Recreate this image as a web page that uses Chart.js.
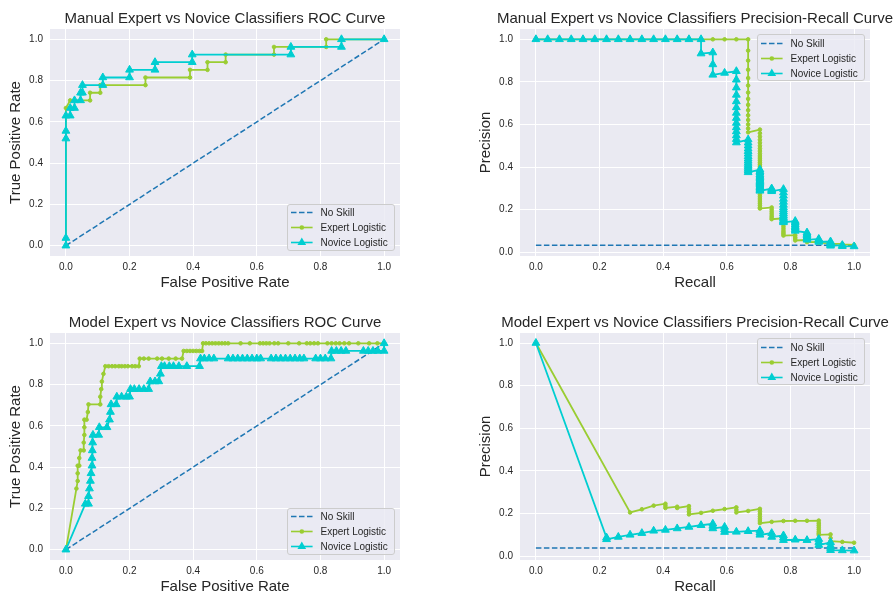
<!DOCTYPE html>
<html>
<head>
<meta charset="utf-8">
<script src="https://cdn.jsdelivr.net/npm/chart.js@4.4.1/dist/chart.umd.min.js"></script>
<style>
  html, body { margin: 0; padding: 0; background: #fff; overflow: hidden; }
  #fig { position: relative; width: 896px; height: 595px; overflow: hidden;
         font-family: "Liberation Sans", Arial, sans-serif; color: #262626; }
  #fig canvas { position: absolute; }
  .ttl { position: absolute; font-size: 15px; line-height: 15px; white-space: nowrap; transform: translateX(-50%); }
  .lgd { position: absolute; box-sizing: border-box; width: 108px; height: 47px;
         background: rgba(234, 234, 242, 0.8); border: 1px solid #cccccc; border-radius: 3px; }
  .lgd .row { position: absolute; left: 0; height: 15px; width: 106px; }
  .lgd svg { position: absolute; left: 3px; top: 0; }
  .lgd span { position: absolute; left: 33px; top: 0; font-size: 10px; line-height: 15px; white-space: nowrap; }
</style>
</head>
<body>
<div id="fig">
  <canvas id="manualRoc" width="448" height="300" style="left:0;top:0"></canvas>
  <canvas id="manualPr" width="448" height="300" style="left:448px;top:0"></canvas>
  <canvas id="modelRoc" width="448" height="300" style="left:0;top:300px"></canvas>
  <canvas id="modelPr" width="448" height="300" style="left:448px;top:300px"></canvas>
</div>
<script>
// ---- data ----
const tickValues = [0, 0.2, 0.4, 0.6, 0.8, 1.0];
const tickLabels = ['0.0', '0.2', '0.4', '0.6', '0.8', '1.0'];
const seriesNames = ['No Skill', 'Expert Logistic', 'Novice Logistic'];

const rocNoSkillX = [0, 1];
const rocNoSkillY = [0, 1];
const manualPrNoSkill = 0.033;
const modelPrNoSkill = 0.038;

// Manual ROC
const manualRocExpertFpr = [0, 0, 0.0135, 0.076, 0.076, 0.108, 0.108, 0.25, 0.25, 0.39, 0.39, 0.445, 0.445, 0.502, 0.502, 0.654, 0.654, 0.818, 0.818, 1.0];
const manualRocExpertTpr = [0, 0.667, 0.704, 0.704, 0.741, 0.741, 0.778, 0.778, 0.815, 0.815, 0.852, 0.852, 0.889, 0.889, 0.926, 0.926, 0.963, 0.963, 1.0, 1.0];
const manualRocNoviceFpr = [0, 0, 0, 0, 0, 0.0135, 0.0135, 0.027, 0.027, 0.046, 0.046, 0.052, 0.052, 0.116, 0.116, 0.2, 0.2, 0.28, 0.28, 0.397, 0.397, 0.707, 0.707, 0.866, 0.866, 1.0];
const manualRocNoviceTpr = [0, 0.037, 0.519, 0.556, 0.63, 0.63, 0.667, 0.667, 0.704, 0.704, 0.741, 0.741, 0.778, 0.778, 0.815, 0.815, 0.852, 0.852, 0.889, 0.889, 0.926, 0.926, 0.963, 0.963, 1.0, 1.0];

// Manual precision-recall
const manualPrExpertRecall = [
  0, 0.037, 0.074, 0.111, 0.148, 0.185, 0.222, 0.259, 0.296, 0.333, 0.37, 0.407, 0.444, 0.481, 0.519, 0.556, 0.593, 0.63, 0.667,
  0.667, 0.667, 0.667, 0.667, 0.667, 0.667, 0.667, 0.667, 0.667, 0.667, 0.667, 0.667, 0.667, 0.667,
  0.704, 0.704, 0.704, 0.704, 0.704, 0.704, 0.704, 0.704, 0.704, 0.704, 0.704, 0.704,
  0.704, 0.704, 0.704, 0.704, 0.704, 0.704, 0.704, 0.704, 0.704, 0.704, 0.704, 0.704,
  0.704, 0.704, 0.704, 0.704, 0.704, 0.704, 0.704, 0.704, 0.704, 0.704, 0.704, 0.704,
  0.741, 0.741, 0.741, 0.741, 0.741, 0.741, 0.741,
  0.778, 0.778, 0.778, 0.778, 0.778, 0.778, 0.778, 0.778, 0.778, 0.778,
  0.815, 0.815, 0.815, 0.815,
  0.852, 0.852, 0.852,
  0.889, 0.889,
  0.926, 0.926,
  0.963, 0.963,
  1.0
];
const manualPrExpertPrecision = [
  1, 1, 1, 1, 1, 1, 1, 1, 1, 1, 1, 1, 1, 1, 1, 1, 1, 1, 1,
  0.947, 0.9, 0.857, 0.818, 0.783, 0.75, 0.72, 0.692, 0.667, 0.643, 0.621, 0.6, 0.581, 0.563,
  0.576, 0.559, 0.543, 0.528, 0.514, 0.5, 0.487, 0.475, 0.463, 0.452, 0.442, 0.432,
  0.422, 0.413, 0.404, 0.396, 0.388, 0.38, 0.37, 0.36, 0.35, 0.34, 0.33, 0.32,
  0.31, 0.3, 0.29, 0.28, 0.27, 0.26, 0.25, 0.24, 0.23, 0.22, 0.21, 0.205,
  0.21, 0.2, 0.19, 0.18, 0.17, 0.162, 0.155,
  0.159, 0.15, 0.14, 0.13, 0.12, 0.11, 0.1, 0.092, 0.085, 0.078,
  0.08, 0.07, 0.062, 0.055,
  0.057, 0.052, 0.047,
  0.048, 0.044,
  0.043, 0.039,
  0.039, 0.036,
  0.034
];
const manualPrNoviceRecall = [
  0, 0.037, 0.074, 0.111, 0.148, 0.185, 0.222, 0.259, 0.296, 0.333, 0.37, 0.407, 0.444, 0.481, 0.519,
  0.519,
  0.556, 0.556, 0.556,
  0.593,
  0.63, 0.63, 0.63, 0.63, 0.63, 0.63, 0.63, 0.63, 0.63, 0.63, 0.63, 0.63, 0.63, 0.63,
  0.667, 0.667, 0.667, 0.667, 0.667, 0.667, 0.667, 0.667, 0.667, 0.667, 0.667, 0.667, 0.667, 0.667, 0.667,
  0.704, 0.704, 0.704, 0.704, 0.704, 0.704, 0.704, 0.704, 0.704, 0.704, 0.704, 0.704, 0.704, 0.704, 0.704, 0.704, 0.704, 0.704,
  0.741, 0.741, 0.741, 0.741,
  0.778, 0.778, 0.778, 0.778, 0.778, 0.778, 0.778, 0.778, 0.778, 0.778, 0.778, 0.778, 0.778, 0.778, 0.778, 0.778,
  0.815, 0.815, 0.815, 0.815, 0.815, 0.815, 0.815,
  0.852, 0.852, 0.852, 0.852, 0.852, 0.852,
  0.889, 0.889, 0.889, 0.889,
  0.926, 0.926, 0.926, 0.926, 0.926,
  0.963, 0.963,
  1.0
];
const manualPrNovicePrecision = [
  1, 1, 1, 1, 1, 1, 1, 1, 1, 1, 1, 1, 1, 1, 1,
  0.933,
  0.938, 0.882, 0.833,
  0.842,
  0.85, 0.81, 0.773, 0.739, 0.708, 0.68, 0.654, 0.63, 0.607, 0.586, 0.567, 0.548, 0.531, 0.515,
  0.529, 0.514, 0.5, 0.486, 0.474, 0.462, 0.45, 0.439, 0.429, 0.419, 0.409, 0.4, 0.391, 0.383, 0.375,
  0.388, 0.38, 0.373, 0.365, 0.358, 0.352, 0.345, 0.339, 0.333, 0.328, 0.322, 0.317, 0.311, 0.306, 0.302, 0.297, 0.292, 0.288,
  0.299, 0.294, 0.29, 0.286,
  0.296, 0.28, 0.265, 0.25, 0.236, 0.222, 0.21, 0.2, 0.19, 0.181, 0.172, 0.164, 0.157, 0.15, 0.144, 0.14,
  0.146, 0.138, 0.13, 0.122, 0.115, 0.108, 0.1,
  0.092, 0.085, 0.078, 0.071, 0.064, 0.058,
  0.062, 0.058, 0.053, 0.048,
  0.05, 0.045, 0.04, 0.035, 0.03,
  0.033, 0.028,
  0.027
];

// Model ROC
const modelRocExpertFpr = [
  0, 0.033, 0.037, 0.037, 0.037, 0.042, 0.042, 0.046, 0.056, 0.056, 0.058, 0.058, 0.058, 0.065, 0.069, 0.071, 0.108, 0.108, 0.111, 0.113, 0.118, 0.124,
  0.134, 0.145, 0.155, 0.166, 0.175, 0.185, 0.195, 0.208, 0.218, 0.229,
  0.232, 0.245, 0.26, 0.287, 0.302, 0.323, 0.345, 0.365,
  0.37, 0.38, 0.39, 0.4, 0.41, 0.42, 0.428,
  0.431, 0.44, 0.45, 0.46, 0.47, 0.48, 0.49, 0.5, 0.51, 0.549, 0.578,
  0.61, 0.62, 0.63, 0.64, 0.655, 0.667, 0.699, 0.733, 0.757, 0.768, 0.78,
  0.792, 0.822, 0.835, 0.848, 0.86, 0.875, 0.89, 0.919, 0.953, 0.979, 1.0
];
const modelRocExpertTpr = [
  0, 0.296, 0.333, 0.37, 0.407, 0.407, 0.444, 0.481, 0.481, 0.519, 0.556, 0.593, 0.63, 0.63, 0.667, 0.704, 0.704, 0.741, 0.778, 0.815, 0.852, 0.889,
  0.889, 0.889, 0.889, 0.889, 0.889, 0.889, 0.889, 0.889, 0.889, 0.889,
  0.926, 0.926, 0.926, 0.926, 0.926, 0.926, 0.926, 0.926,
  0.963, 0.963, 0.963, 0.963, 0.963, 0.963, 0.963,
  1, 1, 1, 1, 1, 1, 1, 1, 1, 1, 1,
  1, 1, 1, 1, 1, 1, 1, 1, 1, 1, 1,
  1, 1, 1, 1, 1, 1, 1, 1, 1, 1, 1
];
const modelRocNoviceFpr = [
  0, 0.061, 0.071, 0.071, 0.074, 0.077, 0.079, 0.082, 0.082, 0.083, 0.084, 0.085, 0.103, 0.105, 0.129, 0.137, 0.14,
  0.142, 0.158, 0.16, 0.175, 0.19, 0.2, 0.203, 0.215, 0.23, 0.245, 0.26, 0.265, 0.28, 0.292, 0.297, 0.3,
  0.31, 0.325, 0.338, 0.355, 0.38, 0.42,
  0.423, 0.435, 0.45, 0.465, 0.51, 0.525, 0.54, 0.555, 0.57, 0.585, 0.6, 0.612,
  0.645, 0.66, 0.675, 0.69, 0.705, 0.72, 0.735, 0.748, 0.785, 0.8, 0.815, 0.833,
  0.835, 0.85, 0.865, 0.88, 0.935, 0.95, 0.965, 0.98, 1.0,
  1.0
];
const modelRocNoviceTpr = [
  0, 0.222, 0.222, 0.259, 0.296, 0.333, 0.37, 0.407, 0.444, 0.481, 0.519, 0.556, 0.556, 0.593, 0.593, 0.63, 0.667,
  0.704, 0.704, 0.741, 0.741, 0.741, 0.741, 0.778, 0.778, 0.778, 0.778, 0.778, 0.815, 0.815, 0.815, 0.852, 0.889,
  0.889, 0.889, 0.889, 0.889, 0.889, 0.889,
  0.926, 0.926, 0.926, 0.926, 0.926, 0.926, 0.926, 0.926, 0.926, 0.926, 0.926, 0.926,
  0.926, 0.926, 0.926, 0.926, 0.926, 0.926, 0.926, 0.926, 0.926, 0.926, 0.926, 0.926,
  0.963, 0.963, 0.963, 0.963, 0.963, 0.963, 0.963, 0.963, 0.963,
  1.0
];

// Model precision-recall
const modelPrExpertRecall = [
  0, 0.296, 0.333, 0.37, 0.407, 0.407, 0.407, 0.444, 0.444, 0.481, 0.481, 0.481, 0.481, 0.519, 0.556, 0.593, 0.63, 0.63, 0.63, 0.667,
  0.704, 0.704, 0.704, 0.704, 0.704, 0.704, 0.704,
  0.741, 0.778, 0.815, 0.852,
  0.889, 0.889, 0.889, 0.889, 0.889, 0.889, 0.889, 0.889,
  0.926, 0.926, 0.926,
  0.963, 1.0
];
const modelPrExpertPrecision = [
  1.0, 0.205, 0.22, 0.237, 0.246, 0.236, 0.226, 0.232, 0.226, 0.235, 0.222, 0.209, 0.196, 0.203, 0.213, 0.221, 0.229, 0.217, 0.205, 0.212,
  0.222, 0.21, 0.198, 0.186, 0.175, 0.165, 0.155,
  0.161, 0.165, 0.166, 0.166,
  0.167, 0.155, 0.145, 0.135, 0.125, 0.115, 0.107, 0.1,
  0.102, 0.085, 0.07,
  0.067, 0.063
];
const modelPrNoviceRecall = [
  0, 0.222, 0.222, 0.259, 0.296, 0.333, 0.37, 0.407, 0.444, 0.481, 0.519,
  0.556, 0.556, 0.556,
  0.593, 0.593, 0.593,
  0.63, 0.667,
  0.704, 0.704, 0.704,
  0.741, 0.741,
  0.778, 0.778, 0.778,
  0.815, 0.852,
  0.889, 0.889, 0.889,
  0.926, 0.926, 0.926, 0.926,
  0.963, 1.0
];
const modelPrNovicePrecision = [
  1.0, 0.087, 0.079, 0.09, 0.1, 0.108, 0.119, 0.123, 0.13, 0.137, 0.145,
  0.152, 0.142, 0.13,
  0.137, 0.125, 0.113,
  0.114, 0.117,
  0.12, 0.11, 0.1,
  0.108, 0.09,
  0.097, 0.086, 0.075,
  0.077, 0.075,
  0.08, 0.066, 0.052,
  0.065, 0.05, 0.038, 0.028,
  0.027, 0.026
];

// ---- styling / layout ----
Chart.defaults.font.family = '"Liberation Sans", Arial, sans-serif';
Chart.defaults.color = '#262626';

const lineColors = ['#1f77b4', '#9acd32', '#00ced1'];

const plotBackground = {
  id: 'plotBackground',
  beforeDraw(chart) {
    const {ctx, chartArea: a} = chart;
    ctx.save();
    ctx.fillStyle = '#eaeaf2';
    ctx.fillRect(a.left, a.top, a.right - a.left, a.bottom - a.top);
    ctx.restore();
  }
};

const pts = (xs, ys) => xs.map((x, i) => ({x: x, y: ys[i]}));

function axis(which, min, max, titleText, size, titlePad) {
  return {
    type: 'linear', min: min, max: max,
    afterFit: s => { if (which === 'x') s.height = size; else s.width = size; },
    afterBuildTicks: s => { s.ticks = tickValues.map(v => ({value: v})); },
    ticks: {
      autoSkip: false, maxRotation: 0, padding: which === 'x' ? 5 : 7,
      font: {size: 10}, color: '#262626',
      callback: (v, i) => tickLabels[i]
    },
    grid: {color: '#ffffff', lineWidth: 1, drawTicks: false},
    border: {display: false},
    title: {
      display: true, text: titleText, color: '#262626', font: {size: 15},
      padding: which === 'x' ? {top: 0, bottom: titlePad} : {top: titlePad, bottom: 0}
    }
  };
}

function makePlot(cfg) {
  const ctx = document.getElementById(cfg.id).getContext('2d');
  const chart = new Chart(ctx, {
    type: 'line',
    data: {
      datasets: [
        {label: seriesNames[0], data: cfg.noSkill, borderColor: lineColors[0], borderWidth: 1.5,
         borderDash: [5.5, 2.5], pointRadius: 0, order: 3},
        {label: seriesNames[1], data: cfg.expert, borderColor: lineColors[1], backgroundColor: lineColors[1],
         borderWidth: 1.8, pointStyle: 'circle', pointRadius: 1.8, pointBorderWidth: 1, order: 2},
        {label: seriesNames[2], data: cfg.novice, borderColor: lineColors[2], backgroundColor: lineColors[2],
         borderWidth: 1.8, pointStyle: 'triangle', pointRadius: 4.5, pointBorderWidth: 1, order: 1}
      ]
    },
    options: {
      responsive: false,
      animation: false,
      layout: {padding: {left: 0, top: cfg.padTop, right: cfg.padRight, bottom: 0}},
      plugins: {legend: {display: false}, tooltip: {enabled: false}},
      scales: {
        x: axis('x', -0.05, 1.05, cfg.xTitle, cfg.xh, cfg.xTitlePad),
        y: axis('y', cfg.yMin, cfg.yMax, cfg.yTitle, cfg.yw, cfg.yTitlePad)
      }
    },
    plugins: [plotBackground]
  });
  addTitle(chart, cfg);
  addLegend(chart, cfg);
  return chart;
}

function addTitle(chart, cfg) {
  const a = chart.chartArea;
  const t = document.createElement('div');
  t.className = 'ttl';
  t.textContent = cfg.title;
  t.style.left = (cfg.left + (a.left + a.right) / 2) + 'px';
  t.style.top = (cfg.top + a.top - 19.5) + 'px';
  document.getElementById('fig').appendChild(t);
}

function legendHandle(ds) {
  let s = '<svg width="22" height="15" viewBox="0 0 22 15">';
  s += '<line x1="0" y1="7.5" x2="21.6" y2="7.5" stroke="' + ds.borderColor + '" stroke-width="1.6"' +
       (ds.borderDash ? ' stroke-dasharray="5.5 2.5"' : '') + '/>';
  if (ds.pointRadius > 0 && ds.pointStyle === 'circle') {
    s += '<circle cx="10.8" cy="7.5" r="' + (ds.pointRadius + 0.5) + '" fill="' + ds.borderColor + '"/>';
  } else if (ds.pointRadius > 0 && ds.pointStyle === 'triangle') {
    const r = ds.pointRadius + 0.5, h = r * Math.sqrt(3) / 2;
    s += '<polygon points="10.8,' + (7.5 - r) + ' ' + (10.8 + h) + ',' + (7.5 + r / 2) + ' ' + (10.8 - h) + ',' + (7.5 + r / 2) +
         '" fill="' + ds.borderColor + '"/>';
  }
  return s + '</svg>';
}

function addLegend(chart, cfg) {
  const a = chart.chartArea;
  const box = document.createElement('div');
  box.className = 'lgd';
  box.style.left = (cfg.left + a.right - 5.5 - 108) + 'px';
  box.style.top = (cfg.legendAt === 'upper right' ? cfg.top + a.top + 5.3 : cfg.top + a.bottom - 5.3 - 47) + 'px';
  chart.data.datasets.forEach((ds, i) => {
    const row = document.createElement('div');
    row.className = 'row';
    row.style.top = (0.5 + 15 * i) + 'px';
    row.innerHTML = legendHandle(ds) + '<span>' + ds.label + '</span>';
    box.appendChild(row);
  });
  document.getElementById('fig').appendChild(box);
}

makePlot({
  id: 'manualRoc', left: 0, top: 0, padTop: 29, padRight: 48, yw: 50, xh: 44,
  xTitlePad: 8, yTitlePad: 7, yMin: -0.05, yMax: 1.05, legendAt: 'lower right',
  title: 'Manual Expert vs Novice Classifiers ROC Curve',
  xTitle: 'False Positive Rate', yTitle: 'True Positive Rate',
  noSkill: pts(rocNoSkillX, rocNoSkillY),
  expert: pts(manualRocExpertFpr, manualRocExpertTpr),
  novice: pts(manualRocNoviceFpr, manualRocNoviceTpr)
});

makePlot({
  id: 'manualPr', left: 448, top: 0, padTop: 29, padRight: 26, yw: 72, xh: 44,
  xTitlePad: 8, yTitlePad: 29, yMin: -0.018, yMax: 1.0485, legendAt: 'upper right',
  title: 'Manual Expert vs Novice Classifiers Precision-Recall Curve',
  xTitle: 'Recall', yTitle: 'Precision',
  noSkill: pts([0, 1], [manualPrNoSkill, manualPrNoSkill]),
  expert: pts(manualPrExpertRecall, manualPrExpertPrecision),
  novice: pts(manualPrNoviceRecall, manualPrNovicePrecision)
});

makePlot({
  id: 'modelRoc', left: 0, top: 300, padTop: 33, padRight: 48, yw: 50, xh: 40,
  xTitlePad: 4, yTitlePad: 6.5, yMin: -0.05, yMax: 1.05, legendAt: 'lower right',
  title: 'Model Expert vs Novice Classifiers ROC Curve',
  xTitle: 'False Positive Rate', yTitle: 'True Positive Rate',
  noSkill: pts(rocNoSkillX, rocNoSkillY),
  expert: pts(modelRocExpertFpr, modelRocExpertTpr),
  novice: pts(modelRocNoviceFpr, modelRocNoviceTpr)
});

makePlot({
  id: 'modelPr', left: 448, top: 300, padTop: 33, padRight: 26, yw: 72, xh: 40,
  xTitlePad: 4, yTitlePad: 29, yMin: -0.018, yMax: 1.047, legendAt: 'upper right',
  title: 'Model Expert vs Novice Classifiers Precision-Recall Curve',
  xTitle: 'Recall', yTitle: 'Precision',
  noSkill: pts([0, 1], [modelPrNoSkill, modelPrNoSkill]),
  expert: pts(modelPrExpertRecall, modelPrExpertPrecision),
  novice: pts(modelPrNoviceRecall, modelPrNovicePrecision)
});
</script>
</body>
</html>
